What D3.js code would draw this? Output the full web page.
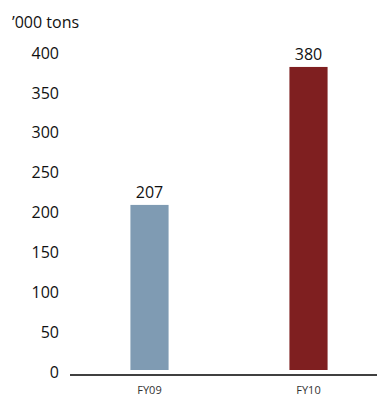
<!DOCTYPE html>
<html><head><meta charset="utf-8">
<script src="https://cdn.jsdelivr.net/npm/d3@7"></script>
<style>body{margin:0;background:#fff}svg{display:block}</style>
</head><body>
<script>
const categories = ["FY09", "FY10"];
const values = [207, 380];
const colors = ["#7f9bb3", "#7f1f20"];
const yTicks = [0, 50, 100, 150, 200, 250, 300, 350, 400];
const unitLabel = "\u2019000 tons";

const W = 377, H = 397;
const svg = d3.select("body").append("svg").attr("width", W).attr("height", H);
const font = "'Open Sans', 'Noto Sans', sans-serif";

const x = d3.scaleBand().domain(categories).range([70, 388]).paddingInner(0.76).paddingOuter(0.38);
const y = d3.scaleLinear().domain([0, 400]).range([370, 51]);

// y tick labels (no axis line)
const yAxis = d3.axisLeft(y).tickValues(yTicks).tickSize(0).tickPadding(0);
const gy = svg.append("g").attr("transform", "translate(59,2)").call(yAxis);
gy.select(".domain").remove();
gy.selectAll("text").attr("font-family", font).attr("font-size", 16).attr("fill", "#111");

svg.append("text").attr("x", 12).attr("y", 28).attr("font-family", font).attr("font-size", 16)
  .attr("fill", "#111").text(unitLabel);

// bars
svg.selectAll("rect.bar").data(values).enter().append("rect")
  .attr("x", (d, i) => x(categories[i]))
  .attr("width", x.bandwidth())
  .attr("y", d => y(d))
  .attr("height", d => y(0) - y(d))
  .attr("fill", (d, i) => colors[i]);

// value labels
svg.selectAll("text.val").data(values).enter().append("text")
  .attr("x", (d, i) => x(categories[i]) + x.bandwidth() / 2)
  .attr("y", d => y(d) - 7)
  .attr("text-anchor", "middle").attr("font-family", font).attr("font-size", 16).attr("fill", "#111")
  .text(d => d);

// x axis
const xAxis = d3.axisBottom(x).tickSize(0).tickPadding(11);
const gx = svg.append("g").attr("transform", "translate(0,375)").call(xAxis);
gx.select(".domain").remove();
gx.selectAll("text").attr("font-family", font).attr("font-size", 11).attr("fill", "#333");
svg.append("line").attr("x1", 70).attr("x2", 377).attr("y1", 375).attr("y2", 375)
  .attr("stroke", "#000").attr("stroke-width", 1.5);
</script>
</body></html>
